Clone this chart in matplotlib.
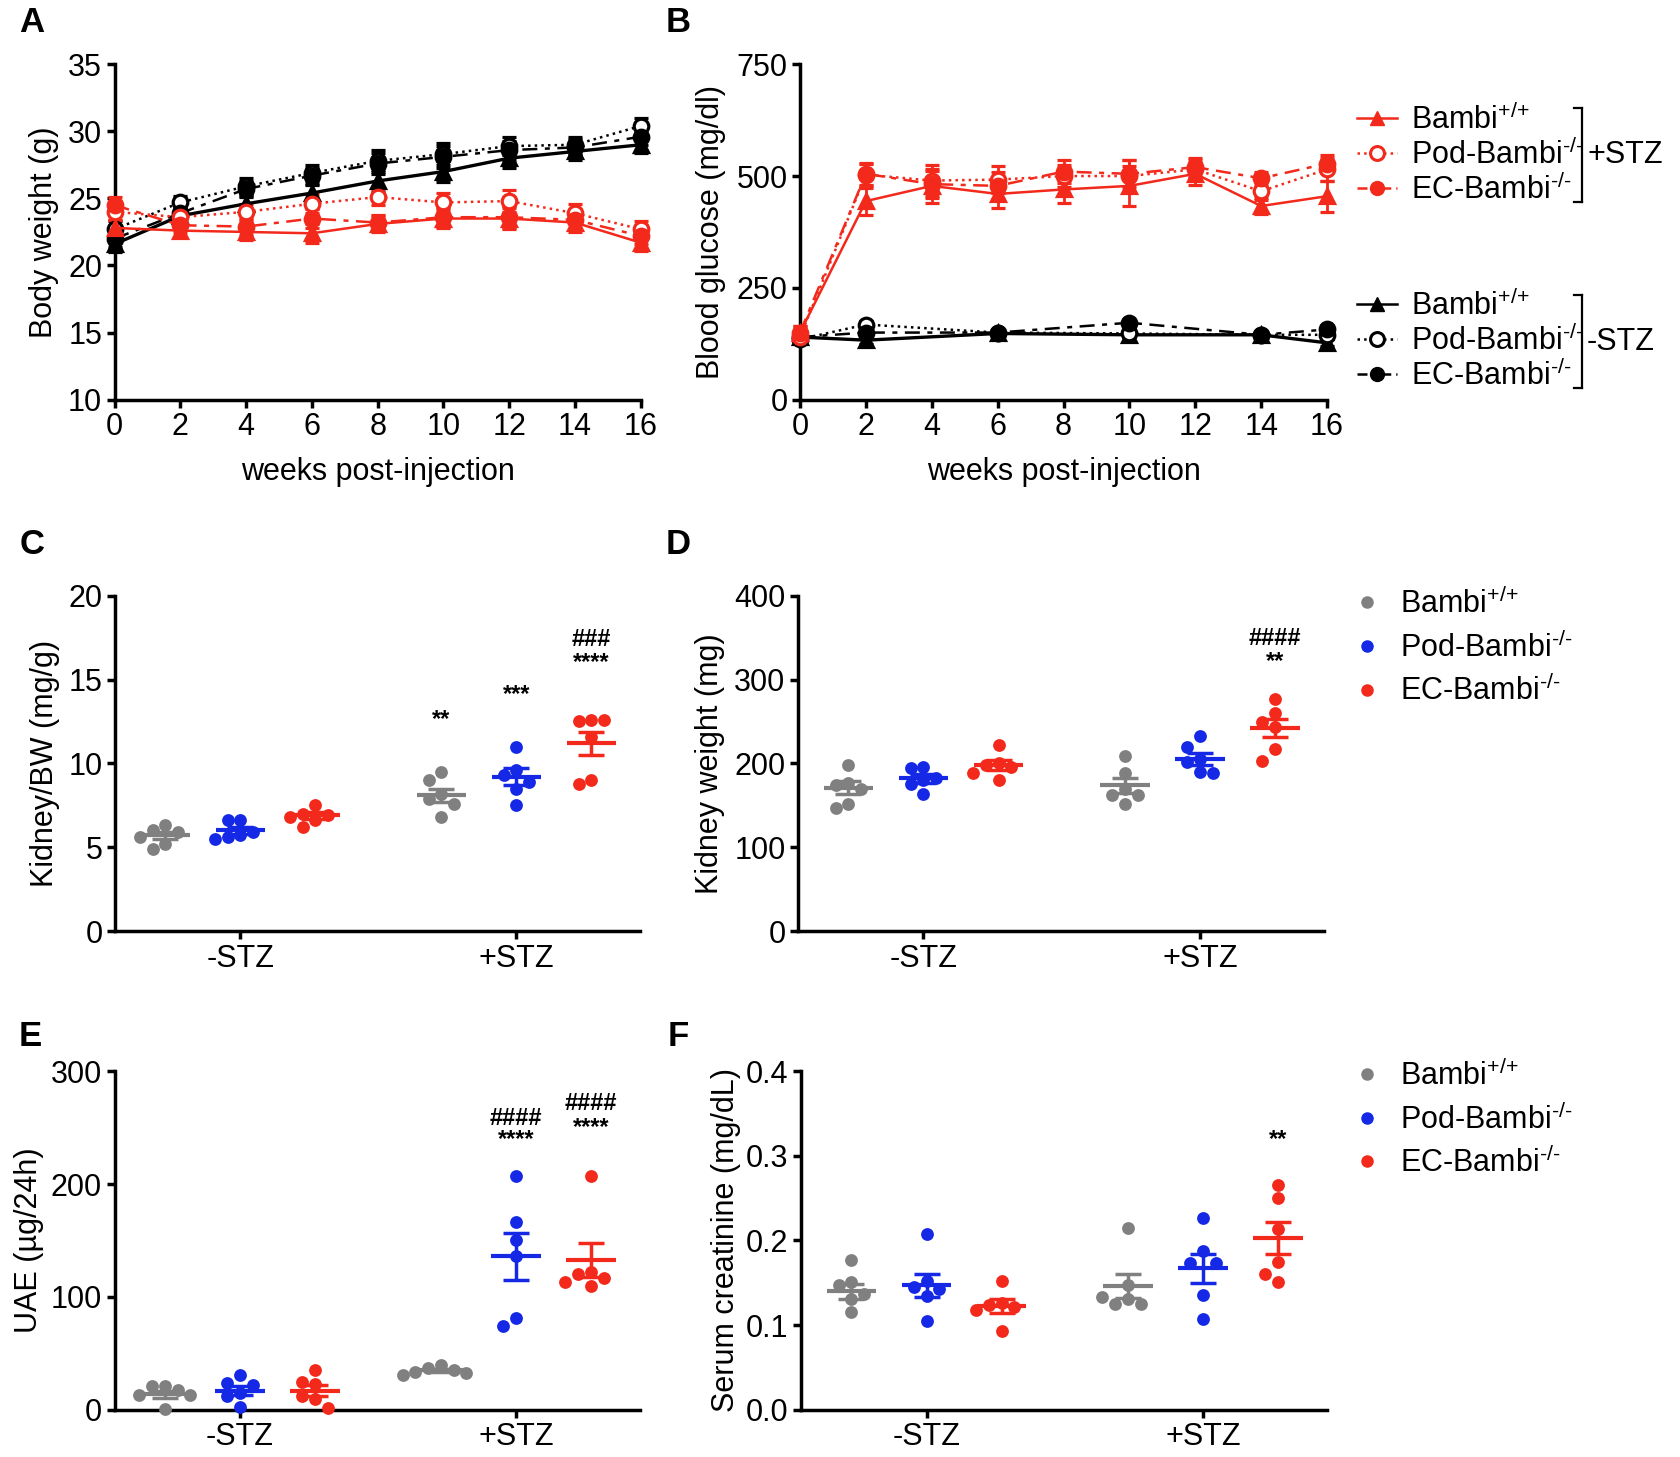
import numpy as np
import matplotlib.pyplot as plt
from matplotlib.lines import Line2D

plt.rcParams['font.family'] = ['Liberation Sans', 'DejaVu Sans']
plt.rcParams['mathtext.fontset'] = 'custom'
plt.rcParams['mathtext.rm'] = 'Liberation Sans'
plt.rcParams['mathtext.it'] = 'Liberation Sans'
plt.rcParams['mathtext.bf'] = 'Liberation Sans:bold'

RED = '#f2291b'
BLUE = '#1428e6'
GRAY = '#808080'
BLACK = '#000000'
FS = 22

# ---- A: body weight (g) ----
weeks = [0, 2, 4, 6, 8, 10, 12, 14, 16]
bw_wt_neg = [21.6, 23.7, 24.6, 25.4, 26.3, 27.0, 28.0, 28.5, 29.0]
bw_pod_neg = [22.7, 24.7, 25.9, 26.9, 27.8, 28.3, 28.9, 29.0, 30.4]
bw_ec_neg = [22.0, 23.9, 25.7, 26.7, 27.6, 28.1, 28.6, 28.8, 29.6]
bw_wt_pos = [22.8, 22.6, 22.5, 22.4, 23.1, 23.5, 23.5, 23.2, 21.7]
bw_pod_pos = [24.0, 23.6, 24.0, 24.6, 25.1, 24.7, 24.8, 23.9, 22.7]
bw_ec_pos = [24.5, 23.0, 22.9, 23.5, 23.2, 23.6, 23.6, 23.4, 22.2]
bw_sem_neg = [0.6, 0.5, 0.6, 0.6, 0.8, 0.8, 0.7, 0.6, 0.6]
bw_sem_pos = [0.6, 0.5, 0.6, 0.7, 0.6, 0.7, 0.8, 0.7, 0.6]

# ---- B: blood glucose (mg/dl) ----
bg_wt_pos = [150, 444, 478, 460, 470, 478, 505, 433, 455]
bg_pod_pos = [140, 503, 490, 492, 500, 500, 515, 466, 515]
bg_ec_pos = [150, 505, 482, 478, 510, 505, 520, 495, 528]
bg_sem_wt = [15, 30, 38, 32, 30, 45, 25, 18, 35]
bg_sem_pod = [15, 25, 35, 30, 25, 35, 20, 20, 25]
bg_sem_ec = [15, 25, 30, 30, 25, 30, 20, 15, 20]
weeks_ctrl = [0, 2, 6, 10, 14, 16]
bg_wt_neg = [140, 133, 148, 145, 145, 127]
bg_pod_neg = [135, 168, 150, 148, 145, 145]
bg_ec_neg = [140, 150, 150, 172, 145, 157]
bg_sem_ctrl = [8, 8, 6, 6, 6, 8]

groups = ['-STZ', '+STZ']
genotypes = [r'Bambi$^{\text{+/+}}$', r'Pod-Bambi$^{\text{-/-}}$', r'EC-Bambi$^{\text{-/-}}$']

# ---- C: kidney/BW (mg/g) ----  [group][genotype]
kbw_pts = [[[6.3, 6.0, 5.9, 5.6, 5.2, 4.9], [6.6, 6.6, 5.9, 5.7, 5.6, 5.5], [7.5, 7.0, 6.9, 6.8, 6.6, 6.2]],
           [[9.5, 9.0, 8.2, 7.9, 7.6, 6.8], [11.0, 9.6, 9.3, 8.9, 8.5, 7.5], [12.6, 12.5, 12.6, 11.6, 9.0, 8.8]]]
kbw_mean = [[5.7, 6.0, 6.9], [8.1, 9.2, 11.2]]
kbw_sem = [[0.2, 0.2, 0.2], [0.4, 0.5, 0.7]]
kbw_stars = [(1, 0, 12.6, '**'), (1, 1, 14.1, '***'), (1, 2, 16.0, '****'), (1, 2, 17.4, '###')]

# ---- D: kidney weight (mg) ----
kw_pts = [[[198, 177, 174, 170, 152, 147], [196, 194, 183, 180, 176, 164], [222, 200, 198, 196, 189, 180]],
          [[209, 189, 170, 162, 162, 151], [233, 220, 205, 202, 190, 188], [277, 260, 249, 244, 217, 203]]]
kw_mean = [[171, 182, 198], [174, 205, 242]]
kw_sem = [[8, 5, 6], [9, 7, 11]]
kw_stars = [(1, 2, 321, '**'), (1, 2, 349, '####')]

# ---- E: UAE (ug/24h) ----
uae_pts = [[[21, 21, 18, 13, 13, 1], [31, 24, 22, 15, 12, 3], [35, 25, 23, 12, 10, 2]],
           [[40, 37, 35, 34, 33, 31], [207, 166, 150, 136, 81, 74], [207, 122, 120, 117, 113, 110]]]
uae_mean = [[14, 17, 17], [35, 136, 133]]
uae_sem = [[3, 4, 5], [1.5, 21, 15]]
uae_stars = [(1, 1, 239, '****'), (1, 1, 258, '####'), (1, 2, 250, '****'), (1, 2, 271, '####')]

# ---- F: serum creatinine (mg/dL) ----
scr_pts = [[[0.177, 0.151, 0.148, 0.137, 0.131, 0.116], [0.208, 0.152, 0.145, 0.143, 0.135, 0.105],
            [0.152, 0.126, 0.124, 0.122, 0.118, 0.093]],
           [[0.215, 0.148, 0.131, 0.125, 0.125, 0.133], [0.226, 0.188, 0.174, 0.174, 0.136, 0.107],
            [0.265, 0.250, 0.213, 0.175, 0.161, 0.151]]]
scr_mean = [[0.140, 0.147, 0.123], [0.146, 0.167, 0.203]]
scr_sem = [[0.009, 0.014, 0.008], [0.014, 0.017, 0.019]]
scr_stars = [(1, 2, 0.319, '**')]

DOT_COLORS = [GRAY, BLUE, RED]
CENTERS = [1.67, 5.35]


def style(ax):
    for s in ['top', 'right']:
        ax.spines[s].set_visible(False)
    for s in ['left', 'bottom']:
        ax.spines[s].set_linewidth(2.5)
    ax.tick_params(width=2.5, length=6, labelsize=FS, pad=3, direction='out')


def spread(vals, yr, dx=0.17):
    thr = 0.037 * yr
    placed, offs = [], []
    for v in vals:
        for o in (0, -dx, dx, -2 * dx, 2 * dx, -3 * dx, 3 * dx):
            if all(abs(v - pv) > thr or abs(o - po) > dx * 0.9 for pv, po in placed):
                break
        placed.append((v, o))
        offs.append(o)
    return np.array(offs)


def time_panel(ax, x, y, e, color, marker, ls, filled, lw=1.8):
    mfc = color if filled else 'white'
    ax.errorbar(x, y, yerr=e, color=color, ls=ls, lw=lw, marker=marker, ms=10.5,
                mfc=mfc, mec=color, mew=2.3, capsize=5, capthick=2, elinewidth=2,
                clip_on=False, zorder=3)


def dot_panel(ax, pts, means, sems, stars, ylim, yticks):
    yr = ylim[1] - ylim[0]
    for gi, c in enumerate(CENTERS):
        for ci, col in enumerate(DOT_COLORS):
            xc = c + (ci - 1) * 1.0
            vals = np.array(pts[gi][ci])
            ax.scatter(xc + spread(vals, yr), vals, s=85, color=col, lw=0, zorder=3, clip_on=False)
            ax.hlines(means[gi][ci], xc - 0.33, xc + 0.33, color=col, lw=3.0, zorder=4)
            ax.errorbar(xc, means[gi][ci], yerr=sems[gi][ci], fmt='none', ecolor=col,
                        elinewidth=2.5, capsize=9.5, capthick=2.5, zorder=4)
    for gi, ci, yv, txt in stars:
        ax.text(CENTERS[gi] + (ci - 1) * 1.0, yv, txt, ha='center', va='center',
                fontsize=17, fontweight='bold')
    ax.set_xlim(0, 7)
    ax.set_ylim(*ylim)
    ax.set_yticks(yticks)
    ax.set_xticks(CENTERS)
    ax.set_xticklabels(groups)
    style(ax)


fig = plt.figure(figsize=(16.8, 14.57), dpi=100)

# A
axA = fig.add_axes([0.0682, 0.7257, 0.3132, 0.2302])
time_panel(axA, weeks, bw_wt_neg, bw_sem_neg, BLACK, '^', '-', True, lw=2.4)
time_panel(axA, weeks, bw_pod_neg, bw_sem_neg, BLACK, 'o', ':', False)
time_panel(axA, weeks, bw_ec_neg, bw_sem_neg, BLACK, 'o', (0, (6, 3, 2, 3)), True)
time_panel(axA, weeks, bw_wt_pos, bw_sem_pos, RED, '^', '-', True)
time_panel(axA, weeks, bw_pod_pos, bw_sem_pos, RED, 'o', ':', False)
time_panel(axA, weeks, bw_ec_pos, bw_sem_pos, RED, 'o', (0, (6, 3, 2, 3)), True)
axA.set_xlim(0, 16)
axA.set_ylim(10, 35)
axA.set_xticks(weeks)
axA.set_yticks([10, 15, 20, 25, 30, 35])
axA.set_xlabel('weeks post-injection', fontsize=FS)
axA.set_ylabel('Body weight (g)', fontsize=FS)
axA.xaxis.set_label_coords(0.5, -0.17)
axA.yaxis.set_label_coords(-0.105, 0.5)
style(axA)

# B
axB = fig.add_axes([0.4762, 0.7257, 0.3137, 0.2302])
time_panel(axB, weeks_ctrl, bg_wt_neg, bg_sem_ctrl, BLACK, '^', '-', True, lw=2.4)
time_panel(axB, weeks_ctrl, bg_pod_neg, bg_sem_ctrl, BLACK, 'o', ':', False)
time_panel(axB, weeks_ctrl, bg_ec_neg, bg_sem_ctrl, BLACK, 'o', (0, (6, 3, 2, 3)), True)
time_panel(axB, weeks, bg_wt_pos, bg_sem_wt, RED, '^', '-', True)
time_panel(axB, weeks, bg_pod_pos, bg_sem_pod, RED, 'o', ':', False)
time_panel(axB, weeks, bg_ec_pos, bg_sem_ec, RED, 'o', (0, (6, 3, 2, 3)), True)
axB.set_xlim(0, 16)
axB.set_ylim(0, 750)
axB.set_xticks(weeks)
axB.set_yticks([0, 250, 500, 750])
axB.set_xlabel('weeks post-injection', fontsize=FS)
axB.set_ylabel('Blood glucose (mg/dl)', fontsize=FS)
axB.xaxis.set_label_coords(0.5, -0.17)
axB.yaxis.set_label_coords(-0.14, 0.5)
style(axB)


def b_handles(color):
    return [Line2D([], [], color=color, marker='^', ls='-', ms=10, lw=1.8),
            Line2D([], [], color=color, marker='o', ls=':', ms=10, lw=1.8, mfc='white', mew=2.2),
            Line2D([], [], color=color, marker='o', ls=(0, (4, 2, 1.5, 2)), ms=10, lw=1.8)]


legB1 = axB.legend(b_handles(RED), genotypes, loc='upper left', bbox_to_anchor=(0.808, 0.9286),
                   bbox_transform=fig.transFigure, frameon=False, fontsize=FS, handlelength=1.3,
                   handletextpad=0.45, labelspacing=0.1, borderpad=0, borderaxespad=0)
axB.add_artist(legB1)
axB.legend(b_handles(BLACK), genotypes, loc='upper left', bbox_to_anchor=(0.808, 0.801),
           bbox_transform=fig.transFigure, frameon=False, fontsize=FS, handlelength=1.3,
           handletextpad=0.45, labelspacing=0.1, borderpad=0, borderaxespad=0)
for top, bot, lab in [(0.9259, 0.8614, '+STZ'), (0.7975, 0.7337, '-STZ')]:
    bx = 0.9417
    fig.add_artist(Line2D([bx, bx], [bot, top], color='black', lw=1.6, transform=fig.transFigure))
    fig.add_artist(Line2D([bx - 0.005, bx], [top, top], color='black', lw=1.6, transform=fig.transFigure))
    fig.add_artist(Line2D([bx - 0.005, bx], [bot, bot], color='black', lw=1.6, transform=fig.transFigure))
    fig.text(bx + 0.003, (top + bot) / 2, lab, fontsize=FS, ha='left', va='center')

# C
axC = fig.add_axes([0.0685, 0.361, 0.3125, 0.2301])
dot_panel(axC, kbw_pts, kbw_mean, kbw_sem, kbw_stars, (0, 20), [0, 5, 10, 15, 20])
axC.set_ylabel('Kidney/BW (mg/g)', fontsize=FS)
axC.yaxis.set_label_coords(-0.105, 0.5)

# D
axD = fig.add_axes([0.475, 0.361, 0.3131, 0.2301])
dot_panel(axD, kw_pts, kw_mean, kw_sem, kw_stars, (0, 400), [0, 100, 200, 300, 400])
axD.set_ylabel('Kidney weight (mg)', fontsize=FS)
axD.yaxis.set_label_coords(-0.138, 0.5)

# E
axE = fig.add_axes([0.0682, 0.0323, 0.3125, 0.2326])
dot_panel(axE, uae_pts, uae_mean, uae_sem, uae_stars, (0, 300), [0, 100, 200, 300])
axE.set_ylabel('UAE (\u00b5g/24h)', fontsize=FS)
axE.yaxis.set_label_coords(-0.135, 0.5)

# F
axF = fig.add_axes([0.4768, 0.0323, 0.3131, 0.2326])
dot_panel(axF, scr_pts, scr_mean, scr_sem, scr_stars, (0, 0.4), [0.0, 0.1, 0.2, 0.3, 0.4])
axF.set_yticklabels(['0.0', '0.1', '0.2', '0.3', '0.4'])
axF.set_ylabel('Serum creatinine (mg/dL)', fontsize=FS)
axF.yaxis.set_label_coords(-0.115, 0.5)

dot_handles = [Line2D([], [], color=c, marker='o', ls='none', ms=8) for c in DOT_COLORS]
for ax, ytop in [(axD, 0.5964), (axF, 0.2725)]:
    ax.legend(dot_handles, genotypes, loc='upper left', bbox_to_anchor=(0.8065, ytop),
              bbox_transform=fig.transFigure, frameon=False, fontsize=FS, handlelength=0.8,
              handletextpad=0.67, labelspacing=0.38, borderpad=0, borderaxespad=0)

# panel letters
for lab, x, y in [('A', 32, 22), ('B', 678, 22), ('C', 32, 544), ('D', 678, 544), ('E', 30, 1037), ('F', 678, 1037)]:
    fig.text(x / 1680, 1 - y / 1457, lab, fontsize=25, fontweight='bold', ha='center', va='center')

fig.savefig('out.png', dpi=100)
